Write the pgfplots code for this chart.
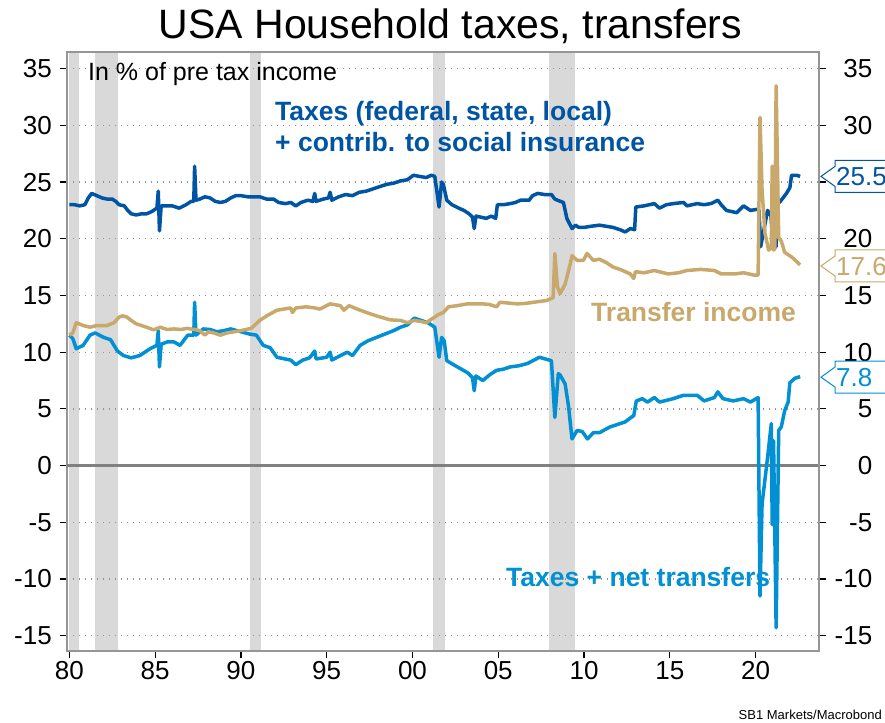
\documentclass[border=0pt]{standalone}
\usepackage{fontspec}
\setmainfont{Liberation Sans}
\usepackage{pgfplots}
\pgfplotsset{compat=1.18}
\definecolor{taxblue}{RGB}{0,84,164}
\definecolor{netblue}{RGB}{0,144,211}
\definecolor{tancol}{RGB}{200,168,107}
\definecolor{recgray}{RGB}{217,217,217}
\definecolor{framegray}{RGB}{150,150,150}
\pgfplotsset{
  myaxis/.style={
    at={(67pt,71pt)}, anchor=south west, scale only axis,
    width=752pt, height=599pt,
    xmin=1979.86, xmax=2023.7, ymin=-16.35, ymax=36.47,
    ytick={-15,-10,-5,0,5,10,15,20,25,30,35},
    yticklabels={-15,-10,-5,0,5,10,15,20,25,30,35},
    tick align=outside, major tick length=7pt,
    tick style={black, line width=1.2pt},
    axis line style={framegray, line width=1.5pt},
    ticklabel style={font=\fontsize{26}{26}\selectfont, inner sep=0pt},
  }
}
\begin{document}
\begin{tikzpicture}[x=1pt,y=1pt]
\begin{axis}[myaxis, set layers,
  xtick={1980,1985,1990,1995,2000,2005,2010,2015,2020},
  xticklabels={80,85,90,95,00,05,10,15,20},
  xtick pos=bottom, ytick pos=left,
  ymajorgrids, grid style={gray!85, line width=1.3pt, dash pattern=on 1.3pt off 4.7pt},
  yticklabel style={anchor=east, xshift=-8pt},
  xticklabel style={anchor=north, yshift=-3pt},
  line join=round,
]
% recessions
\addplot[fill=recgray, draw=none, on layer=axis background] coordinates {(1980.0,-16.35) (1980.55,-16.35) (1980.55,36.47) (1980.0,36.47)} -- cycle;
\addplot[fill=recgray, draw=none, on layer=axis background] coordinates {(1981.5,-16.35) (1982.85,-16.35) (1982.85,36.47) (1981.5,36.47)} -- cycle;
\addplot[fill=recgray, draw=none, on layer=axis background] coordinates {(1990.5,-16.35) (1991.17,-16.35) (1991.17,36.47) (1990.5,36.47)} -- cycle;
\addplot[fill=recgray, draw=none, on layer=axis background] coordinates {(2001.17,-16.35) (2001.87,-16.35) (2001.87,36.47) (2001.17,36.47)} -- cycle;
\addplot[fill=recgray, draw=none, on layer=axis background] coordinates {(2007.95,-16.35) (2009.45,-16.35) (2009.45,36.47) (2007.95,36.47)} -- cycle;
% zero line
\addplot[color=gray, line width=3pt] coordinates {(1979.86,0) (2023.7,0)};
% taxes
\addplot[color=taxblue, line width=3.5pt] coordinates {
(1980.0,23.0) (1980.3,23.0) (1980.6,22.9) (1980.9,23.0) (1981.1,23.6) (1981.3,24.0) (1981.6,23.8) (1981.9,23.6)
(1982.2,23.5) (1982.5,23.5) (1982.7,23.3) (1982.9,23.0) (1983.2,22.9) (1983.4,22.5) (1983.6,22.2) (1983.9,22.1)
(1984.2,22.2) (1984.5,22.2) (1984.8,22.4) (1985.1,22.7) (1985.18,24.2) (1985.25,20.7) (1985.35,22.9) (1985.7,22.9)
(1986.0,22.9) (1986.4,22.7) (1986.8,23.0) (1987.1,23.3) (1987.25,23.3) (1987.3,26.4) (1987.38,23.4) (1987.6,23.5)
(1987.9,23.7) (1988.2,23.6) (1988.5,23.3) (1988.8,23.2) (1989.1,23.3) (1989.4,23.6) (1989.7,23.8) (1990.0,23.8)
(1990.4,23.7) (1990.8,23.7) (1991.1,23.7) (1991.5,23.5) (1991.9,23.5) (1992.2,23.2) (1992.6,23.1) (1992.9,23.2)
(1993.2,22.9) (1993.5,23.2) (1993.9,23.4) (1994.2,23.3) (1994.3,24.0) (1994.38,23.3) (1994.8,23.5) (1995.1,23.6)
(1995.2,24.1) (1995.3,23.4) (1995.7,23.7) (1996.1,23.9) (1996.5,23.8) (1996.9,24.1) (1997.3,24.2) (1997.7,24.4)
(1998.1,24.6) (1998.5,24.8) (1998.9,24.9) (1999.3,25.1) (1999.7,25.2) (2000.06,25.6) (2000.4,25.5) (2000.8,25.4)
(2001.1,25.6) (2001.3,25.5) (2001.55,22.8) (2001.7,25.0) (2001.8,24.8) (2002.0,23.4) (2002.3,23.0) (2002.7,22.7)
(2003.0,22.5) (2003.3,22.2) (2003.5,21.9) (2003.6,20.9) (2003.7,22.0) (2004.0,21.9) (2004.3,21.8) (2004.6,22.0)
(2004.85,21.8) (2004.95,23.0) (2005.3,23.0) (2005.7,23.1) (2006.0,23.2) (2006.3,23.4) (2006.8,23.4) (2007.0,23.8)
(2007.3,24.0) (2007.7,23.9) (2008.1,23.9) (2008.3,23.5) (2008.45,23.4) (2008.8,23.2) (2009.0,21.8) (2009.3,20.9)
(2009.5,21.2) (2009.7,21.0) (2010.0,21.0) (2010.4,21.1) (2010.9,21.2) (2011.3,21.1) (2011.7,21.0) (2012.1,20.8)
(2012.4,20.6) (2012.7,20.9) (2012.95,20.8) (2013.02,22.8) (2013.5,22.9) (2014.1,23.1) (2014.4,22.7) (2014.8,23.0)
(2015.2,23.1) (2015.8,23.2) (2016.0,22.9) (2016.6,23.1) (2017.0,23.0) (2017.4,23.1) (2017.8,23.4) (2018.0,23.0)
(2018.3,22.5) (2018.9,22.3) (2019.3,22.9) (2019.7,22.5) (2020.1,22.6) (2020.2,22.5) (2020.3,19.3) (2020.45,20.5)
(2020.7,22.5) (2020.9,22.0) (2021.0,19.8) (2021.2,19.3) (2021.25,23.0) (2021.5,23.4) (2021.8,24.0) (2022.0,24.5)
(2022.1,25.6) (2022.4,25.6) (2022.6,25.5)
};
% taxes + net transfers
\addplot[color=netblue, line width=3.5pt] coordinates {
(1980.0,11.5) (1980.2,11.2) (1980.4,10.3) (1980.8,10.6) (1981.2,11.5) (1981.5,11.7) (1982.0,11.3) (1982.4,11.1)
(1982.8,10.1) (1983.15,9.7) (1983.6,9.5) (1984.1,9.7) (1984.7,10.3) (1985.1,10.6) (1985.18,11.9) (1985.25,8.7)
(1985.35,10.7) (1985.7,10.9) (1986.1,10.9) (1986.45,10.6) (1986.9,11.5) (1987.25,11.5) (1987.3,14.4) (1987.38,11.5)
(1987.8,12.05) (1988.2,12.0) (1988.6,11.8) (1989.0,11.9) (1989.4,12.05) (1990.0,11.8) (1990.5,11.6) (1990.9,11.5)
(1991.3,10.6) (1991.7,10.4) (1992.1,9.55) (1992.9,9.3) (1993.2,8.9) (1993.6,9.3) (1994.0,9.5) (1994.3,10.1)
(1994.38,9.4) (1995.0,9.55) (1995.2,10.0) (1995.3,9.3) (1995.8,9.7) (1996.2,10.0) (1996.5,9.7) (1996.95,10.6)
(1997.4,11.0) (1997.9,11.3) (1998.4,11.6) (1998.9,11.9) (1999.3,12.2) (1999.7,12.4) (2000.1,13.0) (2000.5,12.8)
(2000.9,12.6) (2001.3,12.2) (2001.55,9.55) (2001.7,11.3) (2001.85,11.0) (2002.0,9.25) (2002.5,8.8) (2003.2,8.2)
(2003.5,7.75) (2003.6,6.6) (2003.7,7.9) (2004.1,7.5) (2004.5,8.0) (2004.9,8.4) (2005.3,8.5) (2005.7,8.7)
(2006.2,8.8) (2006.7,9.0) (2007.4,9.55) (2008.1,9.25) (2008.3,4.25) (2008.5,8.1) (2008.6,8.0) (2008.9,7.2)
(2009.1,5.2) (2009.3,2.35) (2009.6,3.1) (2009.9,3.0) (2010.2,2.35) (2010.55,2.9) (2010.9,2.9) (2011.5,3.4)
(2012.1,3.7) (2012.4,3.85) (2012.7,4.2) (2012.9,4.4) (2013.05,5.7) (2013.4,5.9) (2013.7,5.6) (2014.1,6.0)
(2014.4,5.6) (2015.2,5.9) (2015.8,6.2) (2016.6,6.2) (2017.0,5.7) (2017.6,6.0) (2017.8,6.5) (2018.1,5.9)
(2018.7,5.7) (2019.3,5.9) (2019.7,5.6) (2020.15,6.0) (2020.26,-11.5) (2020.38,-3.4) (2020.7,0.7) (2020.92,3.7)
(2020.97,-5.2) (2021.05,2.2) (2021.2,-14.3) (2021.35,3.1) (2021.5,3.4) (2021.7,4.85) (2021.9,5.6) (2022.0,7.3)
(2022.3,7.7) (2022.6,7.85)
};
% transfer income
\addplot[color=tancol, line width=3.5pt] coordinates {
(1980.0,11.5) (1980.2,11.7) (1980.4,12.6) (1980.8,12.35) (1981.2,12.2) (1981.6,12.35) (1982.2,12.35) (1982.6,12.6)
(1982.9,13.1) (1983.1,13.2) (1983.35,13.1) (1983.6,12.8) (1983.9,12.5) (1984.5,12.2) (1984.9,11.97) (1985.3,12.2)
(1985.7,12.0) (1986.1,12.05) (1986.5,12.0) (1986.85,12.1) (1987.3,12.0) (1987.6,11.9) (1987.9,11.5) (1988.1,11.8)
(1988.4,11.7) (1988.8,11.5) (1989.2,11.7) (1989.6,11.8) (1990.0,11.9) (1990.6,12.1) (1991.1,12.8) (1991.5,13.2)
(1992.1,13.7) (1992.9,13.9) (1993.0,13.5) (1993.2,13.9) (1993.8,14.0) (1994.3,13.9) (1994.6,13.8) (1995.2,14.26)
(1995.8,14.1) (1996.0,13.7) (1996.3,14.1) (1996.95,13.7) (1997.5,13.4) (1997.9,13.2) (1998.7,12.85) (1999.3,12.8)
(1999.7,12.6) (2000.1,12.8) (2000.5,12.7) (2000.8,12.6) (2001.2,13.0) (2001.5,13.3) (2001.8,13.5) (2002.1,14.0)
(2002.6,14.1) (2003.2,14.26) (2004.1,14.26) (2004.5,14.2) (2004.9,14.0) (2005.1,14.4) (2006.1,14.26) (2006.6,14.3)
(2007.05,14.4) (2007.8,14.55) (2008.2,14.8) (2008.3,18.7) (2008.45,15.8) (2008.6,15.15) (2008.9,16.0) (2009.2,17.8)
(2009.3,18.5) (2009.6,18.1) (2009.97,18.1) (2010.17,18.7) (2010.55,18.1) (2010.9,18.2) (2011.3,17.9) (2011.7,17.5)
(2012.1,17.3) (2012.4,17.1) (2012.7,16.9) (2012.9,16.5) (2013.0,17.1) (2013.5,17.0) (2014.1,17.2) (2014.9,16.9)
(2015.5,17.0) (2016.0,17.2) (2016.8,17.3) (2017.6,17.2) (2018.0,16.9) (2018.8,16.9) (2019.3,17.0) (2019.9,16.8)
(2020.15,16.8) (2020.26,30.7) (2020.38,24.3) (2020.55,20.5) (2020.76,19.0) (2020.92,19.2) (2020.97,26.4) (2021.05,19.0)
(2021.12,19.1) (2021.2,33.5) (2021.35,20.1) (2021.5,19.8) (2021.7,18.8) (2022.1,18.4) (2022.6,17.7)
};
\coordinate (vA) at (axis cs:2023.7,25.5);
\coordinate (vB) at (axis cs:2023.7,17.6);
\coordinate (vC) at (axis cs:2023.7,7.8);
\end{axis}
\begin{axis}[myaxis, hide x axis, axis y line*=right, ytick pos=right,
  yticklabel style={anchor=west, text width=40pt, align=right, xshift=6pt}]
\end{axis}
% value boxes
\draw[taxblue, line width=1pt, fill=white] (vA) ++(2,0) -- ++(14,10) -- ++(0,6) -- ++(80,0) -- ++(0,-32) -- ++(-80,0) -- ++(0,6) -- cycle;
\node[anchor=base west, inner sep=0pt, text=taxblue, font=\fontsize{26}{26}\selectfont] at ([xshift=17pt,yshift=-9.5pt]vA) {25.5};
\draw[tancol, line width=1pt, fill=white] (vB) ++(2,0) -- ++(14,10) -- ++(0,6) -- ++(80,0) -- ++(0,-32) -- ++(-80,0) -- ++(0,6) -- cycle;
\node[anchor=base west, inner sep=0pt, text=tancol, font=\fontsize{26}{26}\selectfont] at ([xshift=17pt,yshift=-9.5pt]vB) {17.6};
\draw[netblue, line width=1pt, fill=white] (vC) ++(2,0) -- ++(14,10) -- ++(0,6) -- ++(80,0) -- ++(0,-32) -- ++(-80,0) -- ++(0,6) -- cycle;
\node[anchor=base west, inner sep=0pt, text=netblue, font=\fontsize{26}{26}\selectfont] at ([xshift=17pt,yshift=-9.5pt]vC) {7.8};
% texts
\node[anchor=base, inner sep=0pt, font=\fontsize{41}{41}\selectfont] at (450.5,683) {USA Household taxes, transfers};
\node[anchor=base west, inner sep=0pt, font=\fontsize{25}{25}\selectfont] at (88,641) {In \% of pre tax income};
\node[anchor=base west, inner sep=0pt, text=taxblue, font=\bfseries\fontsize{26.5}{26.5}\selectfont] at (275,601) {Taxes (federal, state, local)};
\node[anchor=base west, inner sep=0pt, text=taxblue, font=\bfseries\fontsize{26.5}{26.5}\selectfont] at (275,570) {+ contrib. to social insurance};
\node[anchor=base west, inner sep=0pt, text=tancol, font=\bfseries\fontsize{26.5}{26.5}\selectfont] at (591,400) {Transfer income};
\node[anchor=base west, inner sep=0pt, text=netblue, font=\bfseries\fontsize{26.5}{26.5}\selectfont] at (506,135) {Taxes + net transfers};
\node[anchor=base east, inner sep=0pt, font=\fontsize{13}{13}\selectfont] at (882,3) {SB1 Markets/Macrobond};
\pgfresetboundingbox
\path[use as bounding box] (0,0) rectangle (885,722);
\end{tikzpicture}
\end{document}
